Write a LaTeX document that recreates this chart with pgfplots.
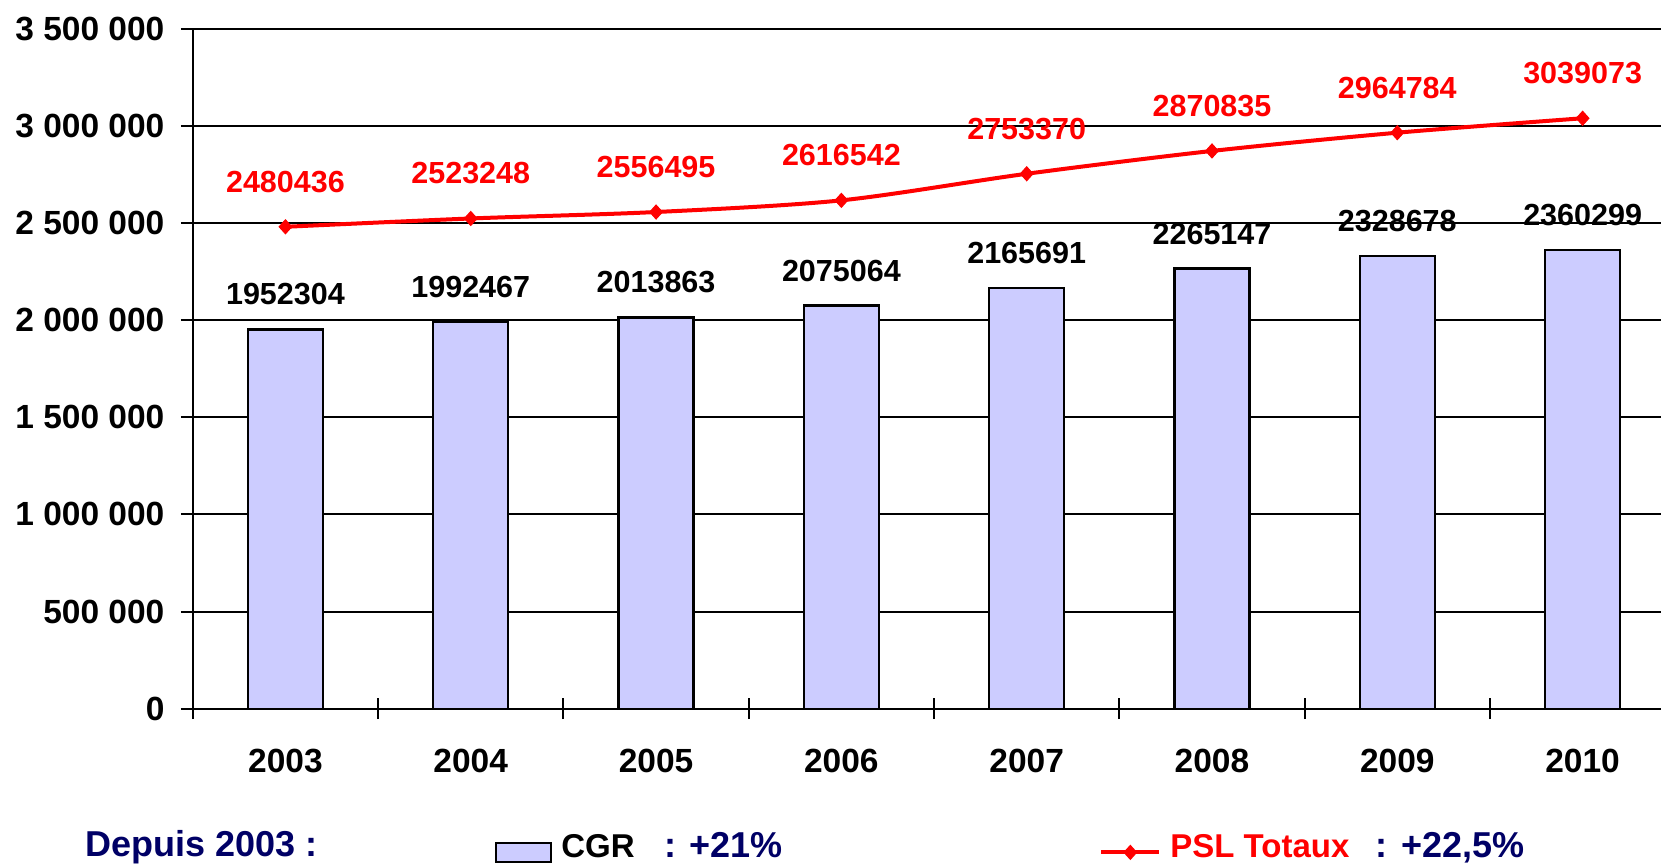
\documentclass[border=0pt]{standalone}
\usepackage{pgfplots}
\pgfplotsset{compat=1.18}
\usepackage{pgfplotstable}
\usepackage{fontspec}
\setmainfont{Liberation Sans}
\definecolor{barfill}{RGB}{204,204,255}
\definecolor{navy}{RGB}{0,0,102}
\definecolor{pslred}{RGB}{255,0,0}
\pgfplotsset{
  barlegend/.style={legend image code/.code={\path (0pt,8.25pt); \draw[##1] (0pt,-8.25pt) rectangle (27.5pt,1.25pt);}},
  linelegend/.style={legend image code/.code={\path (0pt,3.5pt) (0pt,-10.5pt); \draw[mark repeat=2,mark phase=2,##1] plot coordinates {(0pt,-3.5pt) (14.5pt,-3.5pt) (29pt,-3.5pt)};}},
}
\pgfplotstableread{
x cgr psl
0 1952304 2480436
1 1992467 2523248
2 2013863 2556495
3 2075064 2616542
4 2165691 2753370
5 2265147 2870835
6 2328678 2964784
7 2360299 3039073
}\data
\begin{document}
\begin{tikzpicture}
\useasboundingbox (-96.4pt,-77.65pt) rectangle (734.1pt,354.35pt);
\begin{axis}[
  at={(0,0)}, anchor=south west,
  scale only axis, width=734.1pt, height=340pt,
  xmin=-0.5, xmax=7.423, ymin=0, ymax=3500000,
  axis x line*=bottom, axis y line*=left,
  axis line style={line width=1.2pt, black},
  xtick={0,1,2,3,4,5,6,7},
  xticklabels={2003,2004,2005,2006,2007,2008,2009,2010},
  minor xtick={-0.5,0.5,1.5,2.5,3.5,4.5,5.5,6.5},
  ytick={0,500000,1000000,1500000,2000000,2500000,3000000,3500000},
  yticklabels={0,500 000,1 000 000,1 500 000,2 000 000,2 500 000,3 000 000,3 500 000},
  scaled y ticks=false,
  tick align=outside,
  major tick length=6pt, minor tick length=10.5pt,
  major x tick style={draw=none},
  minor x tick style={yshift=5.25pt, line width=1pt, black},
  major y tick style={line width=1pt, black},
  ymajorgrids, grid style={line width=1pt, black},
  tick label style={font=\fontsize{16.75}{20}\selectfont\bfseries},
  xticklabel style={anchor=center, yshift=-20pt},
  yticklabel style={anchor=east, inner sep=0pt, xshift=-8pt},
  clip=false,
  legend columns=2,
  legend style={at={(0.2058,-0.2049)}, anchor=west, draw=none, fill=none,
    inner sep=0pt, outer sep=0pt,
    font=\fontsize{18}{21}\selectfont\bfseries,
    nodes={inner sep=0pt, text depth=0pt},
    /tikz/every odd column/.append style={column sep=4.5pt},
    /tikz/every even column/.append style={column sep=0pt}},
]
\addplot[ybar, bar width=37.5pt, bar shift=0pt, fill=barfill, draw=black, line width=1.2pt,
  point meta=explicit symbolic, nodes near coords,
  nodes near coords style={font=\fontsize{15.25}{18}\selectfont\bfseries, text=black, anchor=center, yshift=17.5pt, inner sep=0pt},
  barlegend]
  table[x=x, y=cgr, meta=cgr] {\data};
\addlegendentry{\makebox[269pt][l]{\makebox[51.5pt][l]{\fontsize{16.5}{20}\selectfont CGR}\textcolor{navy}{: +21\%}}}
\addplot[pslred, line width=2pt, smooth, tension=0.5, mark=diamond*, mark size=3.5pt,
  mark options={solid, fill=pslred, line width=0.5pt, xscale=1.2},
  point meta=explicit symbolic, nodes near coords,
  nodes near coords style={font=\fontsize{15.25}{18}\selectfont\bfseries, text=pslred, anchor=center, yshift=22.5pt, inner sep=0pt},
  linelegend]
  table[x=x, y=psl, meta=psl] {\data};
\addlegendentry{\makebox[102.75pt][l]{\fontsize{16.5}{20}\selectfont\textcolor{pslred}{PSL Totaux}}\textcolor{navy}{: +22,5\%}}
\node[anchor=base west, inner sep=0pt, font=\fontsize{18}{21}\selectfont\bfseries, text=navy,
  xshift=-53.9pt, yshift=-73.65pt] at (rel axis cs:0,0) {Depuis 2003 :};
\end{axis}
\end{tikzpicture}
\end{document}
